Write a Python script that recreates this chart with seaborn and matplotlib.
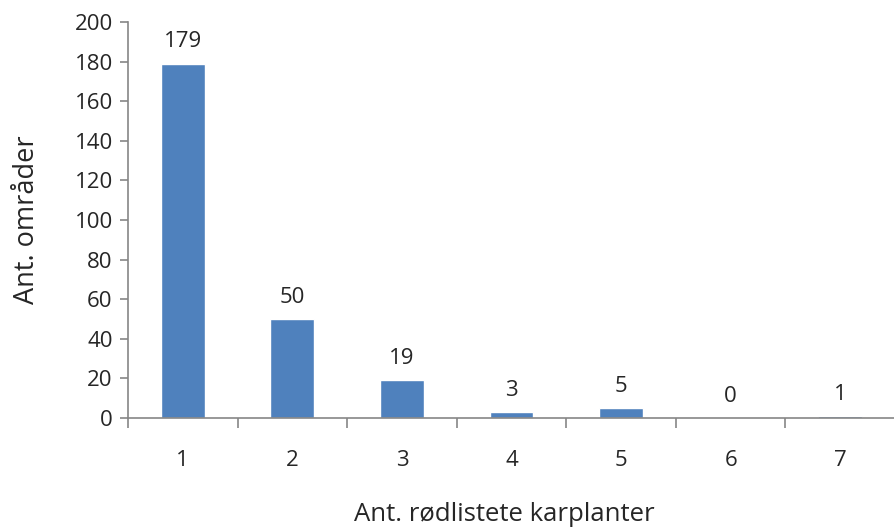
import matplotlib
matplotlib.use("Agg")
import matplotlib.pyplot as plt
import numpy as np
import pandas as pd
import seaborn as sns

categories = ["1", "2", "3", "4", "5", "6", "7"]
counts = [179, 50, 19, 3, 5, 0, 1]
y_ticks = [0, 20, 40, 60, 80, 100, 120, 140, 160, 180, 200]

sns.set_style("white")
plt.rcParams["font.family"] = ["Open Sans", "DejaVu Sans"]

df = pd.DataFrame({"kat": categories, "ant": counts})

fig = plt.figure(figsize=(8.94, 5.30), dpi=100)
ax = fig.add_axes([0.1432, 0.2113, 0.858, 0.7472])
sns.barplot(data=df, x="kat", y="ant", color="#4F81BD", saturation=1, width=0.4, ax=ax)

ax.set_xlim(-0.5, 6.5)
ax.set_ylim(0, 200)
ax.set_yticks(y_ticks)

grey = "#868686"
for side in ["top", "right"]:
    ax.spines[side].set_visible(False)
for side in ["left", "bottom"]:
    ax.spines[side].set_color(grey)
    ax.spines[side].set_linewidth(1.2)

ax.tick_params(axis="y", length=6, width=1.2, color=grey, labelsize=16, pad=5, left=True)
ax.tick_params(axis="x", which="major", length=0, labelsize=16, pad=23)
ax.set_xticks(np.arange(-0.5, 7.0, 1.0), minor=True)
ax.tick_params(axis="x", which="minor", length=7, width=1.2, color=grey, bottom=True)

for i, v in enumerate(counts):
    ax.annotate(str(v), (i, v), xytext=(0, 8), textcoords="offset points",
                ha="center", va="bottom", fontsize=16)

ax.set_xlabel("Ant. rødlistete karplanter", fontsize=18.5)
ax.set_ylabel("Ant. områder", fontsize=19.5)
ax.xaxis.set_label_coords(0.49, -0.212)
ax.yaxis.set_label_coords(-0.113, 0.5)

fig.savefig("out.png", dpi=100)
plt.close(fig)
